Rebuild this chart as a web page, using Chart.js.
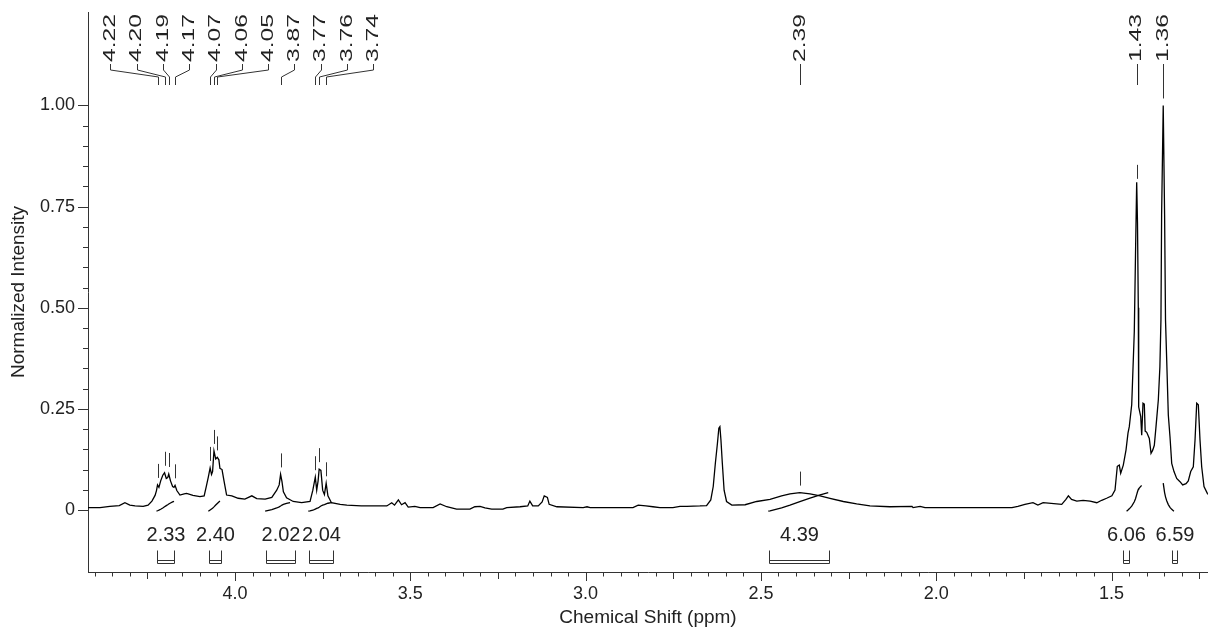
<!DOCTYPE html>
<html>
<head>
<meta charset="utf-8">
<script src="https://cdn.jsdelivr.net/npm/chart.js@4.4.1/dist/chart.umd.min.js"></script>
<style>
  html, body { margin: 0; padding: 0; background: #fff; }
  #wrap { width: 1208px; height: 629px; }
</style>
</head>
<body>
<div id="wrap"><canvas id="nmr"></canvas></div>
<script>
// 1H spectrum trace (ppm descending, normalized intensity)
const shiftPpm = [
  4.420, 4.385, 4.357, 4.330, 4.314, 4.300, 4.285, 4.262, 4.248, 4.237,
  4.228, 4.224, 4.221, 4.217, 4.212, 4.206, 4.201, 4.196, 4.192, 4.189,
  4.184, 4.178, 4.174, 4.171, 4.166, 4.157, 4.145, 4.138, 4.120, 4.100,
  4.088, 4.082, 4.076, 4.071, 4.067, 4.064, 4.060, 4.055, 4.0505, 4.046,
  4.043, 4.037, 4.031, 4.024, 4.009, 3.991, 3.972, 3.952, 3.938, 3.914,
  3.895, 3.881, 3.874, 3.870, 3.866, 3.862, 3.853, 3.834, 3.810, 3.786,
  3.778, 3.771, 3.767, 3.763, 3.760, 3.755, 3.750, 3.745, 3.740, 3.735,
  3.725, 3.700, 3.681, 3.640, 3.600, 3.567, 3.553, 3.545, 3.534, 3.525,
  3.515, 3.506, 3.487, 3.472, 3.435, 3.415, 3.396, 3.368, 3.330, 3.316,
  3.301, 3.287, 3.268, 3.236, 3.225, 3.187, 3.165, 3.159, 3.151, 3.135,
  3.124, 3.118, 3.109, 3.104, 3.082, 3.007, 2.996, 2.987, 2.865, 2.850,
  2.828, 2.808, 2.788, 2.751, 2.731, 2.711, 2.674, 2.655, 2.643, 2.636,
  2.630, 2.624, 2.620, 2.617, 2.614, 2.610, 2.605, 2.598, 2.583, 2.545,
  2.512, 2.474, 2.441, 2.417, 2.389, 2.360, 2.331, 2.303, 2.265, 2.227,
  2.189, 2.132, 2.069, 2.066, 2.046, 2.032, 2.009, 1.784, 1.767, 1.747,
  1.724, 1.710, 1.695, 1.642, 1.630, 1.623, 1.614, 1.599, 1.581, 1.561,
  1.542, 1.528, 1.514, 1.499, 1.490, 1.4835, 1.4778, 1.4738, 1.4664, 1.4587,
  1.4530, 1.4493, 1.4424, 1.4350, 1.4316, 1.4282, 1.4259, 1.4236, 1.4225, 1.4167,
  1.4139, 1.4102, 1.4065, 1.4040, 1.3996, 1.3922, 1.3873, 1.3825, 1.3779, 1.3731,
  1.3665, 1.3620, 1.3590, 1.3571, 1.3525, 1.3486, 1.3460, 1.3426, 1.3380, 1.3332,
  1.3283, 1.3218, 1.3141, 1.3047, 1.2970, 1.2875, 1.2810, 1.2741, 1.2667, 1.2618,
  1.2570, 1.2524, 1.2476, 1.2428, 1.2362, 1.2268, 1.2190
];
const intensity = [
  0.006, 0.006, 0.009, 0.011, 0.018, 0.012, 0.010, 0.009, 0.012, 0.022,
  0.036, 0.048, 0.062, 0.056, 0.072, 0.086, 0.092, 0.078, 0.080, 0.089,
  0.072, 0.058, 0.056, 0.061, 0.048, 0.037, 0.040, 0.041, 0.036, 0.033,
  0.035, 0.058, 0.082, 0.104, 0.088, 0.095, 0.146, 0.126, 0.130, 0.124,
  0.103, 0.100, 0.070, 0.037, 0.035, 0.029, 0.027, 0.035, 0.028, 0.027,
  0.031, 0.049, 0.062, 0.088, 0.070, 0.045, 0.030, 0.021, 0.018, 0.021,
  0.049, 0.081, 0.049, 0.072, 0.101, 0.098, 0.049, 0.038, 0.066, 0.035,
  0.018, 0.014, 0.012, 0.010, 0.010, 0.010, 0.018, 0.012, 0.025, 0.013,
  0.018, 0.007, 0.009, 0.006, 0.006, 0.015, 0.008, 0.002, 0.002, 0.008,
  0.009, 0.005, 0.002, 0.002, 0.006, 0.008, 0.010, 0.022, 0.010, 0.010,
  0.020, 0.035, 0.031, 0.014, 0.008, 0.006, 0.008, 0.006, 0.006, 0.012,
  0.010, 0.008, 0.006, 0.006, 0.009, 0.009, 0.010, 0.011, 0.025, 0.058,
  0.115, 0.165, 0.202, 0.206, 0.173, 0.115, 0.049, 0.021, 0.012, 0.013,
  0.021, 0.026, 0.035, 0.040, 0.043, 0.040, 0.035, 0.029, 0.021, 0.015,
  0.010, 0.008, 0.009, 0.006, 0.009, 0.006, 0.006, 0.006, 0.009, 0.014,
  0.018, 0.012, 0.018, 0.014, 0.026, 0.035, 0.026, 0.022, 0.024, 0.022,
  0.018, 0.024, 0.029, 0.035, 0.049, 0.108, 0.111, 0.091, 0.111, 0.148,
  0.190, 0.206, 0.260, 0.441, 0.630, 0.810, 0.710, 0.500, 0.255, 0.231,
  0.185, 0.264, 0.262, 0.195, 0.192, 0.177, 0.140, 0.148, 0.160, 0.206,
  0.272, 0.354, 0.470, 0.730, 1.000, 0.730, 0.470, 0.371, 0.235, 0.181,
  0.115, 0.095, 0.078, 0.070, 0.062, 0.065, 0.072, 0.095, 0.107, 0.173,
  0.264, 0.260, 0.173, 0.107, 0.058, 0.041, 0.035
];

// picked peaks
const peakShifts = [4.221, 4.201, 4.189, 4.171, 4.071, 4.060, 4.050, 3.870, 3.771, 3.760, 3.740, 2.389, 1.428, 1.3525];
const peakLabels = ['4.22', '4.20', '4.19', '4.17', '4.07', '4.06', '4.05', '3.87', '3.77', '3.76', '3.74', '2.39', '1.43', '1.36'];

// integrals: bracket ranges, values, and the ranges of the drawn integral curves
const integralStart = [4.223, 4.074, 3.912, 3.788, 2.476, 1.466, 1.328];
const integralEnd = [4.173, 4.040, 3.829, 3.720, 2.306, 1.449, 1.314];
const integralValues = [2.33, 2.40, 2.02, 2.04, 4.39, 6.06, 6.59];
const curveStart = [4.224, 4.076, 3.914, 3.791, 2.479, 1.457, 1.322];
const curveEnd = [4.174, 4.043, 3.843, 3.724, 2.308, 1.414, 1.3525];

const xTicks = [4.0, 3.5, 3.0, 2.5, 2.0, 1.5];
const yTicks = [0, 0.25, 0.5, 0.75, 1.0];

const FONT = "'Liberation Sans', Arial, sans-serif";
const ink = '#333';
Chart.defaults.font.family = FONT;

// linear interpolation on the trace
const valueAt = (p) => {
  for (let i = 0; i < shiftPpm.length - 1; i++) {
    const a = shiftPpm[i], b = shiftPpm[i + 1];
    if (p <= a && p >= b) {
      const t = (a - p) / (a - b);
      return intensity[i] + t * (intensity[i + 1] - intensity[i]);
    }
  }
  return 0;
};

// running integral between two shifts, scaled by the integral value
const curveBase = -0.003;
const curveScale = 0.0105;
const integralCurve = (from, to, val) => {
  const lo = Math.min(from, to), hi = Math.max(from, to);
  const ps = [from, to];
  shiftPpm.forEach(p => { if (p > lo && p < hi) ps.push(p); });
  ps.sort((a, b) => from > to ? b - a : a - b);
  let acc = 0;
  const cum = [0];
  for (let i = 1; i < ps.length; i++) {
    acc += Math.abs(ps[i] - ps[i - 1]) * (valueAt(ps[i]) + valueAt(ps[i - 1])) / 2;
    cum.push(acc);
  }
  return ps.map((p, i) => ({ x: p, y: curveBase + cum[i] / acc * val * curveScale }));
};

const peakTop = (p) => {
  let m = 0;
  for (let d = -0.003; d <= 0.0031; d += 0.0005) m = Math.max(m, valueAt(p + d));
  return m;
};

// spread the peak labels so they do not overlap
const spreadLabels = (xs, gap) => {
  let groups = xs.map(v => ({ items: [v], center: v }));
  let merged = true;
  while (merged) {
    merged = false;
    for (let i = 0; i < groups.length - 1; i++) {
      const a = groups[i], b = groups[i + 1];
      const aEnd = a.center + (a.items.length - 1) * gap / 2;
      const bStart = b.center - (b.items.length - 1) * gap / 2;
      if (bStart - aEnd < gap) {
        const items = a.items.concat(b.items);
        groups.splice(i, 2, { items, center: (items[0] + items[items.length - 1]) / 2 });
        merged = true;
        break;
      }
    }
  }
  const out = [];
  groups.forEach(g => g.items.forEach((v, k) => out.push(g.center + (k - (g.items.length - 1) / 2) * gap)));
  return out;
};

const nmrDecor = {
  id: 'nmrDecor',
  afterDraw(chart) {
    const { ctx, chartArea: area, scales: { x, y } } = chart;
    const crisp = v => Math.round(v) + 0.5;
    ctx.save();
    ctx.strokeStyle = ink;
    ctx.fillStyle = '#222';
    ctx.lineWidth = 1;

    // axis tick marks (minor every 0.05)
    ctx.beginPath();
    for (let i = 0; i <= 20; i++) {
      const py = crisp(y.getPixelForValue(i * 0.05));
      const len = i % 5 === 0 ? 10 : 5;
      ctx.moveTo(area.left - len, py);
      ctx.lineTo(area.left, py);
    }
    for (let i = 20; i <= 90; i++) {
      const v = i * 0.05;
      if (v < x.min || v > x.max) continue;
      const px = crisp(x.getPixelForValue(v));
      const len = i % 10 === 0 ? 9 : (i % 5 === 0 ? 7 : 4.5);
      ctx.moveTo(px, area.bottom);
      ctx.lineTo(px, area.bottom + len);
    }
    ctx.stroke();

    // peak labels with connectors and marks above the peaks
    const px = peakShifts.map(p => x.getPixelForValue(p));
    const order = px.map((v, i) => i).sort((a, b) => px[a] - px[b]);
    const lx = spreadLabels(order.map(i => px[i]), 26.3);
    const t = area.top;
    ctx.font = '17px ' + FONT;
    order.forEach((idx, k) => {
      const X = crisp(px[idx]), L = crisp(lx[k]);
      ctx.beginPath();
      ctx.moveTo(L, t + 52);
      ctx.lineTo(L, t + 58);
      ctx.lineTo(X, t + 65);
      ctx.lineTo(X, t + 73);
      const top = y.getPixelForValue(peakTop(peakShifts[idx]));
      ctx.moveTo(X, top - 7);
      ctx.lineTo(X, top - 21);
      ctx.stroke();
      ctx.save();
      ctx.translate(lx[k], t + 50);
      ctx.rotate(-Math.PI / 2);
      ctx.scale(1.45, 1);
      ctx.textAlign = 'left';
      ctx.textBaseline = 'middle';
      ctx.fillText(peakLabels[idx], 0, 0);
      ctx.restore();
    });

    // integral brackets and values
    ctx.font = '20px ' + FONT;
    ctx.textAlign = 'center';
    ctx.textBaseline = 'middle';
    integralValues.forEach((val, i) => {
      const a = crisp(x.getPixelForValue(integralStart[i]));
      const b = crisp(x.getPixelForValue(integralEnd[i]));
      const bot = area.bottom - 8.5, top = area.bottom - 21.5;
      ctx.beginPath();
      ctx.moveTo(a, top); ctx.lineTo(a, bot); ctx.lineTo(b, bot); ctx.lineTo(b, top);
      ctx.moveTo(a, bot - 3); ctx.lineTo(b, bot - 3);
      ctx.stroke();
      ctx.fillText(val.toFixed(2), (a + b) / 2, area.bottom - 37);
    });
    ctx.restore();
  }
};

const datasets = [{
  data: shiftPpm.map((p, i) => ({ x: p, y: intensity[i] })),
  borderColor: '#000',
  borderWidth: 1.3,
  pointRadius: 0,
  tension: 0,
  fill: false
}];
integralValues.forEach((val, i) => {
  datasets.push({
    data: integralCurve(curveStart[i], curveEnd[i], val),
    borderColor: '#000',
    borderWidth: 1.3,
    pointRadius: 0,
    tension: 0,
    fill: false
  });
});

new Chart(document.getElementById('nmr'), {
  type: 'line',
  data: { datasets },
  options: {
    responsive: true,
    maintainAspectRatio: false,
    animation: false,
    events: [],
    layout: { padding: { top: 12, right: 0, bottom: 0, left: 0 } },
    plugins: { legend: { display: false }, tooltip: { enabled: false } },
    scales: {
      x: {
        type: 'linear',
        reverse: true,
        min: 1.2248,
        max: 4.4193,
        afterBuildTicks: s => { s.ticks = xTicks.map(v => ({ value: v })); },
        afterFit: s => { s.height = 57; s.paddingLeft = 0; s.paddingRight = 0; },
        grid: { display: false, drawTicks: false },
        border: { display: true, color: ink, width: 1 },
        ticks: {
          padding: 11, color: '#222', font: { size: 18 }, maxRotation: 0, autoSkip: false,
          callback: v => v.toFixed(1)
        },
        title: {
          display: true, text: 'Chemical Shift (ppm)', color: '#222',
          font: { size: 19 }, padding: { top: 0, bottom: 0 }
        }
      },
      y: {
        type: 'linear',
        min: -0.1533,
        max: 1.2311,
        afterBuildTicks: s => { s.ticks = yTicks.map(v => ({ value: v })); },
        afterFit: s => { s.width = 88; s.paddingTop = 0; s.paddingBottom = 0; },
        grid: { display: false, drawTicks: false },
        border: { display: true, color: ink, width: 1 },
        ticks: {
          padding: 13, color: '#222', font: { size: 18 },
          callback: v => v === 0 ? '0' : v.toFixed(2)
        },
        title: {
          display: true, text: 'Normalized Intensity', color: '#222',
          font: { size: 19 }, padding: { top: 7, bottom: 0 }
        }
      }
    }
  },
  plugins: [nmrDecor]
});
</script>
</body>
</html>
